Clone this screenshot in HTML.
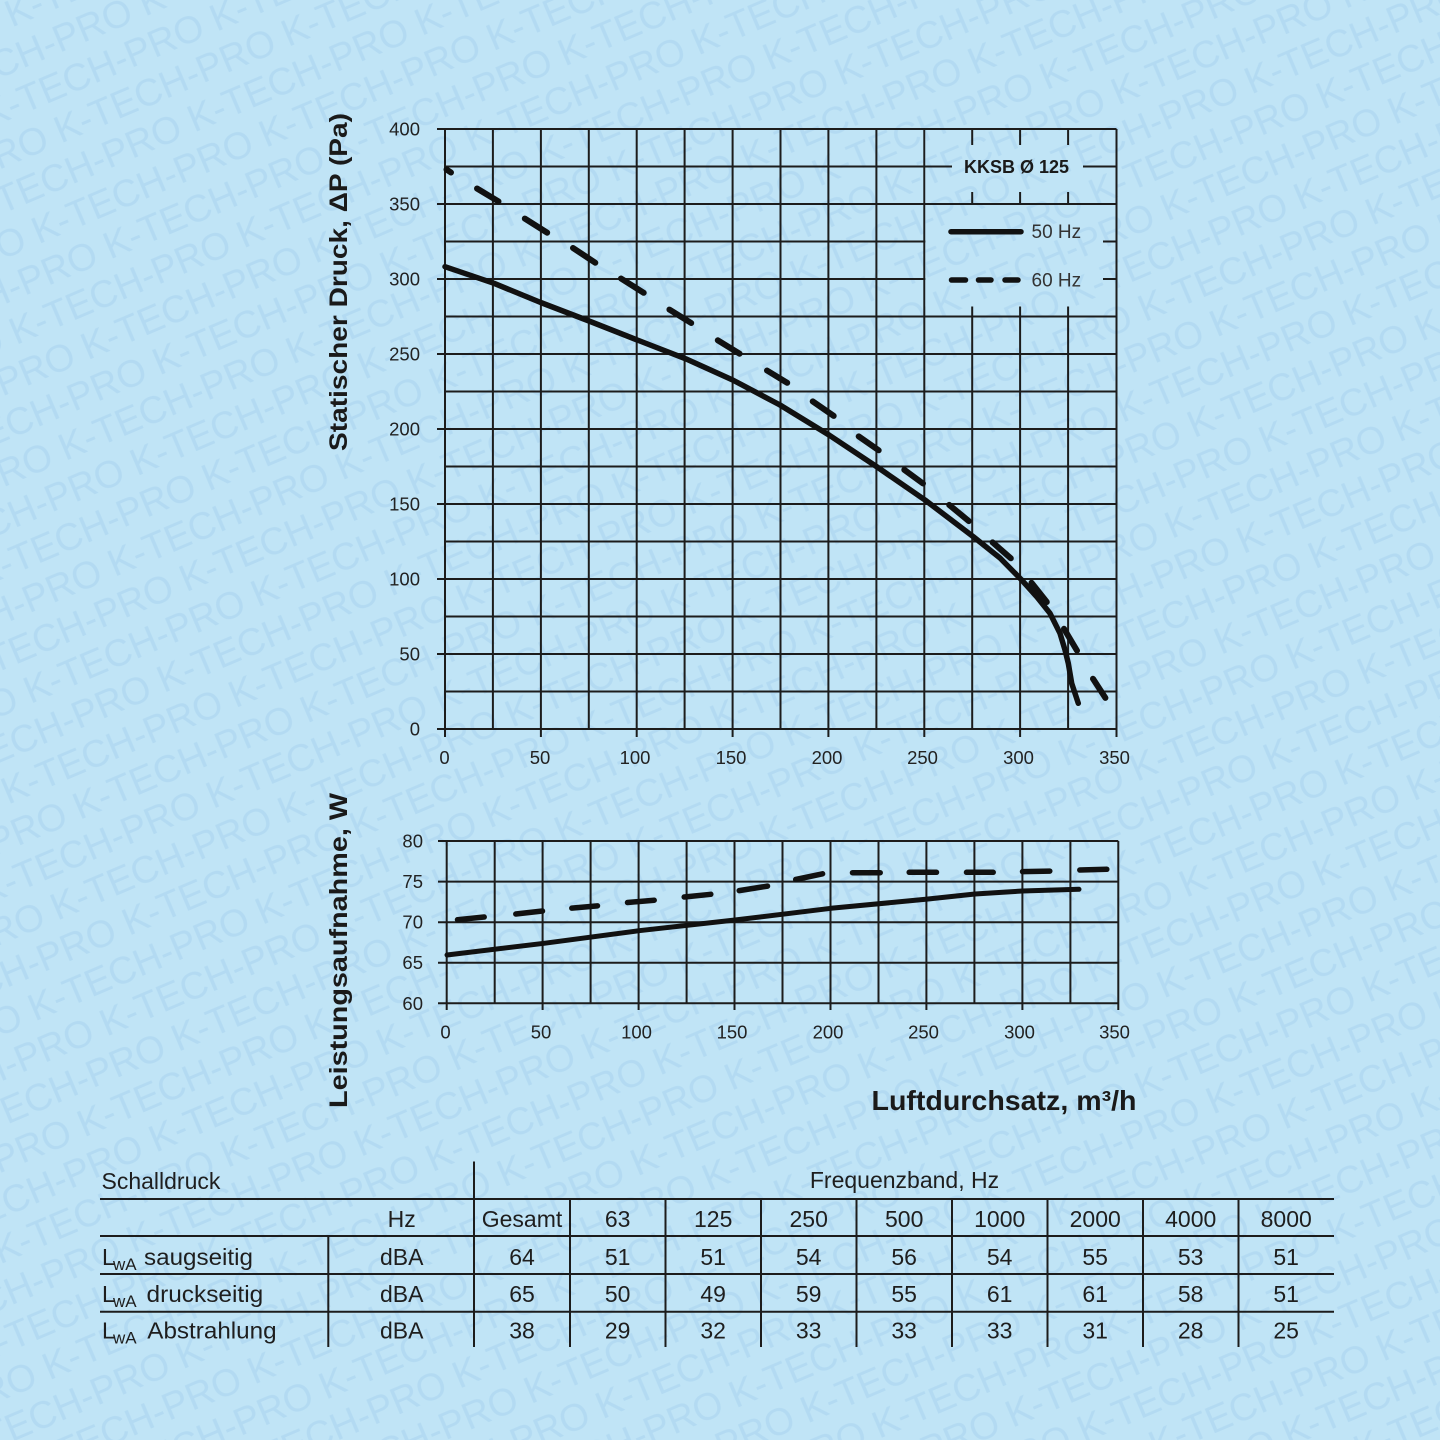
<!DOCTYPE html>
<html><head><meta charset="utf-8"><style>
html,body{margin:0;padding:0;background:#c0e4f6;width:1440px;height:1440px;overflow:hidden;}
svg{display:block;overflow:hidden;}
</style></head><body>
<svg xmlns="http://www.w3.org/2000/svg" width="1440" height="1440" viewBox="0 0 1440 1440">
<defs>
  <pattern id="wm" patternUnits="userSpaceOnUse" x="0" y="0" width="247" height="126" patternTransform="rotate(-23)">
    <g font-family="Liberation Sans, Arial, sans-serif" font-size="38" fill="#7fb2e0" fill-opacity="0.2">
      <text x="-247" y="30">K-TECH-PRO</text>
      <text x="0" y="30">K-TECH-PRO</text>
      <text x="-120" y="72">K-TECH-PRO</text>
      <text x="127" y="72">K-TECH-PRO</text>
      <text x="-60" y="114">K-TECH-PRO</text>
      <text x="187" y="114">K-TECH-PRO</text>
    </g>
  </pattern>
</defs>
<rect x="0" y="0" width="1440" height="1440" fill="#c0e4f6"/>
<rect x="0" y="0" width="1440" height="1440" fill="url(#wm)"/>

<!-- ===== TOP CHART GRID ===== -->
<g stroke="#1c1c1c" stroke-width="2" fill="none">
  <line x1="445" y1="129" x2="445" y2="737"/>
  <line x1="492.9" y1="129" x2="492.9" y2="729"/>
  <line x1="540.9" y1="129" x2="540.9" y2="737"/>
  <line x1="588.8" y1="129" x2="588.8" y2="729"/>
  <line x1="636.7" y1="129" x2="636.7" y2="737"/>
  <line x1="684.6" y1="129" x2="684.6" y2="729"/>
  <line x1="732.6" y1="129" x2="732.6" y2="737"/>
  <line x1="780.5" y1="129" x2="780.5" y2="729"/>
  <line x1="828.4" y1="129" x2="828.4" y2="737"/>
  <line x1="876.4" y1="129" x2="876.4" y2="729"/>
  <line x1="924.3" y1="129" x2="924.3" y2="737"/>
  <line x1="972.2" y1="129" x2="972.2" y2="729"/>
  <line x1="1020.1" y1="129" x2="1020.1" y2="737"/>
  <line x1="1068.1" y1="129" x2="1068.1" y2="729"/>
  <line x1="1116.5" y1="129" x2="1116.5" y2="737"/>
  <line x1="437" y1="729" x2="1116.5" y2="729"/>
  <line x1="445" y1="691.5" x2="1116.5" y2="691.5"/>
  <line x1="437" y1="654" x2="1116.5" y2="654"/>
  <line x1="445" y1="616.5" x2="1116.5" y2="616.5"/>
  <line x1="437" y1="579" x2="1116.5" y2="579"/>
  <line x1="445" y1="541.5" x2="1116.5" y2="541.5"/>
  <line x1="437" y1="504" x2="1116.5" y2="504"/>
  <line x1="445" y1="466.5" x2="1116.5" y2="466.5"/>
  <line x1="437" y1="429" x2="1116.5" y2="429"/>
  <line x1="445" y1="391.5" x2="1116.5" y2="391.5"/>
  <line x1="437" y1="354" x2="1116.5" y2="354"/>
  <line x1="445" y1="316.5" x2="1116.5" y2="316.5"/>
  <line x1="437" y1="279" x2="1116.5" y2="279"/>
  <line x1="445" y1="241.5" x2="1116.5" y2="241.5"/>
  <line x1="437" y1="204" x2="1116.5" y2="204"/>
  <line x1="445" y1="166.5" x2="1116.5" y2="166.5"/>
  <line x1="437" y1="129" x2="1116.5" y2="129"/>
</g>

<!-- legend box (hides grid) -->
<rect x="925.4" y="130" width="190" height="176.5" fill="#c0e4f6"/>
<rect x="925.4" y="130" width="190" height="176.5" fill="url(#wm)"/>
<g stroke="#1c1c1c" stroke-width="2" fill="none">
  <line x1="972.2" y1="129" x2="972.2" y2="145"/>
  <line x1="1020.1" y1="129" x2="1020.1" y2="145"/>
  <line x1="1068.1" y1="129" x2="1068.1" y2="145"/>
  <line x1="972.2" y1="192" x2="972.2" y2="204"/>
  <line x1="1020.1" y1="192" x2="1020.1" y2="204"/>
  <line x1="1068.1" y1="192" x2="1068.1" y2="204"/>
  <line x1="924.3" y1="166.5" x2="952" y2="166.5"/>
  <line x1="1083" y1="166.5" x2="1116.5" y2="166.5"/>
  <line x1="924.3" y1="204" x2="1116.5" y2="204"/>
  <line x1="1103" y1="241.5" x2="1116.5" y2="241.5"/>
  <line x1="1103" y1="279" x2="1116.5" y2="279"/>
</g>
<text x="1016.5" y="173" font-family="Liberation Sans, Arial, sans-serif" font-size="18" font-weight="bold" fill="#1a1a1a" text-anchor="middle">KKSB Ø 125</text>
<line x1="951" y1="231.7" x2="1021" y2="231.7" stroke="#111" stroke-width="5.5" stroke-linecap="round"/>
<g stroke="#111" stroke-width="5.5" stroke-linecap="round">
  <line x1="951.5" y1="280" x2="965.5" y2="280"/>
  <line x1="978.5" y1="280" x2="991" y2="280"/>
  <line x1="1005" y1="280" x2="1018" y2="280"/>
</g>
<text x="1031.5" y="238.2" font-family="Liberation Sans, Arial, sans-serif" font-size="19" fill="#333">50 Hz</text>
<text x="1031.5" y="286.5" font-family="Liberation Sans, Arial, sans-serif" font-size="19" fill="#333">60 Hz</text>

<!-- top tick labels -->
<g font-family="Liberation Sans, Arial, sans-serif" font-size="18.5" fill="#222" text-anchor="end">
  <text x="420" y="135.5">400</text>
  <text x="420" y="210.5">350</text>
  <text x="420" y="285.5">300</text>
  <text x="420" y="360.5">250</text>
  <text x="420" y="435.5">200</text>
  <text x="420" y="510.5">150</text>
  <text x="420" y="585.5">100</text>
  <text x="420" y="660.5">50</text>
  <text x="420" y="735.5">0</text>
</g>
<g font-family="Liberation Sans, Arial, sans-serif" font-size="18.5" fill="#222" text-anchor="middle">
  <text x="444.5" y="764">0</text>
  <text x="540" y="764">50</text>
  <text x="635" y="764">100</text>
  <text x="731" y="764">150</text>
  <text x="827" y="764">200</text>
  <text x="922.5" y="764">250</text>
  <text x="1018.5" y="764">300</text>
  <text x="1114.5" y="764">350</text>
</g>

<!-- top curves -->
<polyline fill="none" stroke="#111" stroke-width="5.5" stroke-linejoin="round" stroke-linecap="round"
 points="445,266.7 494,283.3 540.7,302.5 589,321 637.3,340 685.7,358.8 732.7,380 780,405 829,435 876.7,466.7 925,500 973.3,536.7 1000,558 1021.7,580 1037,597 1050,613.3 1060,633.3 1065,650 1068.3,663.3 1071.7,683.3 1078.3,703.3"/>
<g stroke="#111" stroke-width="6" stroke-linecap="round">
  <line x1="446.5" y1="169.5" x2="451" y2="172.5"/>
  <line x1="477" y1="188.5" x2="498.5" y2="201.4"/>
  <line x1="524.8" y1="218.6" x2="547.2" y2="232.7"/>
  <line x1="573" y1="248" x2="595.3" y2="262.7"/>
  <line x1="621" y1="278.5" x2="643.7" y2="292.8"/>
  <line x1="669.4" y1="309.6" x2="691.2" y2="323"/>
  <line x1="717.8" y1="340.3" x2="739.6" y2="353.7"/>
  <line x1="767" y1="370.5" x2="787.2" y2="382.8"/>
  <line x1="812.7" y1="401.4" x2="833.7" y2="415.9"/>
  <line x1="858.7" y1="436.4" x2="878.7" y2="450.3"/>
  <line x1="904.3" y1="469.8" x2="923" y2="483.5"/>
  <line x1="949.2" y1="504.9" x2="968.8" y2="521.1"/>
  <line x1="992.6" y1="542.4" x2="1010.8" y2="558.3"/>
  <line x1="1031.5" y1="582.7" x2="1046.8" y2="602"/>
  <line x1="1064" y1="628.8" x2="1077" y2="650.6"/>
  <line x1="1093" y1="678.8" x2="1105.4" y2="697.9"/>
</g>

<!-- ===== BOTTOM CHART GRID ===== -->
<g stroke="#1c1c1c" stroke-width="2" fill="none">
  <line x1="446.7" y1="841" x2="446.7" y2="1010"/>
  <line x1="494.7" y1="841" x2="494.7" y2="1003.3"/>
  <line x1="542.6" y1="841" x2="542.6" y2="1010"/>
  <line x1="590.6" y1="841" x2="590.6" y2="1003.3"/>
  <line x1="638.6" y1="841" x2="638.6" y2="1010"/>
  <line x1="686.6" y1="841" x2="686.6" y2="1003.3"/>
  <line x1="734.5" y1="841" x2="734.5" y2="1010"/>
  <line x1="782.5" y1="841" x2="782.5" y2="1003.3"/>
  <line x1="830.5" y1="841" x2="830.5" y2="1010"/>
  <line x1="878.5" y1="841" x2="878.5" y2="1003.3"/>
  <line x1="926.4" y1="841" x2="926.4" y2="1010"/>
  <line x1="974.4" y1="841" x2="974.4" y2="1003.3"/>
  <line x1="1022.4" y1="841" x2="1022.4" y2="1010"/>
  <line x1="1070.4" y1="841" x2="1070.4" y2="1003.3"/>
  <line x1="1118.3" y1="841" x2="1118.3" y2="1010"/>
  <line x1="438" y1="841" x2="1118.3" y2="841"/>
  <line x1="438" y1="881.6" x2="1118.3" y2="881.6"/>
  <line x1="438" y1="922.2" x2="1118.3" y2="922.2"/>
  <line x1="438" y1="962.7" x2="1118.3" y2="962.7"/>
  <line x1="438" y1="1003.3" x2="1118.3" y2="1003.3"/>
</g>
<g font-family="Liberation Sans, Arial, sans-serif" font-size="18.5" fill="#222" text-anchor="end">
  <text x="423" y="847.5">80</text>
  <text x="423" y="888">75</text>
  <text x="423" y="928.7">70</text>
  <text x="423" y="969.2">65</text>
  <text x="423" y="1009.8">60</text>
</g>
<g font-family="Liberation Sans, Arial, sans-serif" font-size="18.5" fill="#222" text-anchor="middle">
  <text x="445.5" y="1038.5">0</text>
  <text x="541" y="1038.5">50</text>
  <text x="636.5" y="1038.5">100</text>
  <text x="732" y="1038.5">150</text>
  <text x="828" y="1038.5">200</text>
  <text x="923.5" y="1038.5">250</text>
  <text x="1019.5" y="1038.5">300</text>
  <text x="1114.5" y="1038.5">350</text>
</g>
<polyline fill="none" stroke="#111" stroke-width="5" stroke-linejoin="round" stroke-linecap="round"
 points="447,955 544,943.3 639,930.7 735,920 831,908.3 925.7,899.3 975,894 1022.3,891 1079,889.3"/>
<g stroke="#111" stroke-width="5.5" stroke-linecap="round">
  <line x1="457.5" y1="919.7" x2="484.2" y2="917"/>
  <line x1="515.8" y1="914" x2="542.5" y2="911"/>
  <line x1="571.8" y1="908.1" x2="597.5" y2="905.9"/>
  <line x1="627.5" y1="902.5" x2="654.2" y2="900.2"/>
  <line x1="684.2" y1="897" x2="710.8" y2="894.3"/>
  <line x1="739.2" y1="890.6" x2="767.5" y2="886.1"/>
  <line x1="795.7" y1="879.5" x2="822.6" y2="873.8"/>
  <line x1="852.5" y1="872.7" x2="880.2" y2="872.7"/>
  <line x1="909.2" y1="872.3" x2="936.5" y2="872.3"/>
  <line x1="966.5" y1="872.3" x2="993.2" y2="872.3"/>
  <line x1="1022.5" y1="871.6" x2="1049.8" y2="871.1"/>
  <line x1="1079.8" y1="870" x2="1106.8" y2="869.3"/>
</g>

<!-- axis titles -->
<text transform="translate(347,282) rotate(-90)" text-anchor="middle" font-family="Liberation Sans, Arial, sans-serif" font-size="25" font-weight="bold" fill="#1a1a1a" textLength="338" lengthAdjust="spacingAndGlyphs">Statischer Druck, ΔP (Pa)</text>
<text transform="translate(347,950.5) rotate(-90)" text-anchor="middle" font-family="Liberation Sans, Arial, sans-serif" font-size="25" font-weight="bold" fill="#1a1a1a" textLength="315" lengthAdjust="spacingAndGlyphs">Leistungsaufnahme, W</text>
<text x="871.5" y="1110" font-family="Liberation Sans, Arial, sans-serif" font-size="27.5" font-weight="bold" fill="#1a1a1a" textLength="265" lengthAdjust="spacingAndGlyphs">Luftdurchsatz, m³/h</text>

<!-- ===== TABLE ===== -->
<g stroke="#1c1c1c" stroke-width="2" fill="none">
  <line x1="100" y1="1199" x2="1334" y2="1199"/>
  <line x1="100" y1="1236" x2="1334" y2="1236"/>
  <line x1="100" y1="1274" x2="1334" y2="1274"/>
  <line x1="100" y1="1311.7" x2="1334" y2="1311.7"/>
  <line x1="474" y1="1161.5" x2="474" y2="1347"/>
  <line x1="328.3" y1="1236" x2="328.3" y2="1347"/>
  <line x1="570" y1="1199" x2="570" y2="1347"/>
  <line x1="665.5" y1="1199" x2="665.5" y2="1347"/>
  <line x1="761" y1="1199" x2="761" y2="1347"/>
  <line x1="856.5" y1="1199" x2="856.5" y2="1347"/>
  <line x1="952" y1="1199" x2="952" y2="1347"/>
  <line x1="1047.5" y1="1199" x2="1047.5" y2="1347"/>
  <line x1="1143" y1="1199" x2="1143" y2="1347"/>
  <line x1="1238.5" y1="1199" x2="1238.5" y2="1347"/>
</g>
<g font-family="Liberation Sans, Arial, sans-serif" font-size="23" fill="#1e1e1e">
  <text x="101.5" y="1189">Schalldruck</text>
  <text x="904.5" y="1188" text-anchor="middle">Frequenzband, Hz</text>
  <text x="102" y="1265">L</text><text x="113" y="1270" font-size="17">wA</text>
  <text x="144" y="1265" textLength="109" lengthAdjust="spacingAndGlyphs">saugseitig</text>
  <text x="102" y="1302">L</text><text x="113" y="1307" font-size="17">wA</text>
  <text x="146.5" y="1302" textLength="116.7" lengthAdjust="spacingAndGlyphs">druckseitig</text>
  <text x="102" y="1338.5">L</text><text x="113" y="1343.5" font-size="17">wA</text>
  <text x="147.3" y="1338.5" textLength="129.3" lengthAdjust="spacingAndGlyphs">Abstrahlung</text>
</g>
<g font-family="Liberation Sans, Arial, sans-serif" font-size="23" fill="#1e1e1e" text-anchor="middle">
  <text x="401.7" y="1227">Hz</text>
  <text x="522" y="1227">Gesamt</text>
  <text x="617.7" y="1227">63</text>
  <text x="713.2" y="1227">125</text>
  <text x="808.7" y="1227">250</text>
  <text x="904.2" y="1227">500</text>
  <text x="999.7" y="1227">1000</text>
  <text x="1095.2" y="1227">2000</text>
  <text x="1190.7" y="1227">4000</text>
  <text x="1286.2" y="1227">8000</text>

  <text x="401.7" y="1265">dBA</text>
  <text x="522" y="1265">64</text>
  <text x="617.7" y="1265">51</text>
  <text x="713.2" y="1265">51</text>
  <text x="808.7" y="1265">54</text>
  <text x="904.2" y="1265">56</text>
  <text x="999.7" y="1265">54</text>
  <text x="1095.2" y="1265">55</text>
  <text x="1190.7" y="1265">53</text>
  <text x="1286.2" y="1265">51</text>

  <text x="401.7" y="1302">dBA</text>
  <text x="522" y="1302">65</text>
  <text x="617.7" y="1302">50</text>
  <text x="713.2" y="1302">49</text>
  <text x="808.7" y="1302">59</text>
  <text x="904.2" y="1302">55</text>
  <text x="999.7" y="1302">61</text>
  <text x="1095.2" y="1302">61</text>
  <text x="1190.7" y="1302">58</text>
  <text x="1286.2" y="1302">51</text>

  <text x="401.7" y="1338.5">dBA</text>
  <text x="522" y="1338.5">38</text>
  <text x="617.7" y="1338.5">29</text>
  <text x="713.2" y="1338.5">32</text>
  <text x="808.7" y="1338.5">33</text>
  <text x="904.2" y="1338.5">33</text>
  <text x="999.7" y="1338.5">33</text>
  <text x="1095.2" y="1338.5">31</text>
  <text x="1190.7" y="1338.5">28</text>
  <text x="1286.2" y="1338.5">25</text>
</g>
</svg>
</body></html>
